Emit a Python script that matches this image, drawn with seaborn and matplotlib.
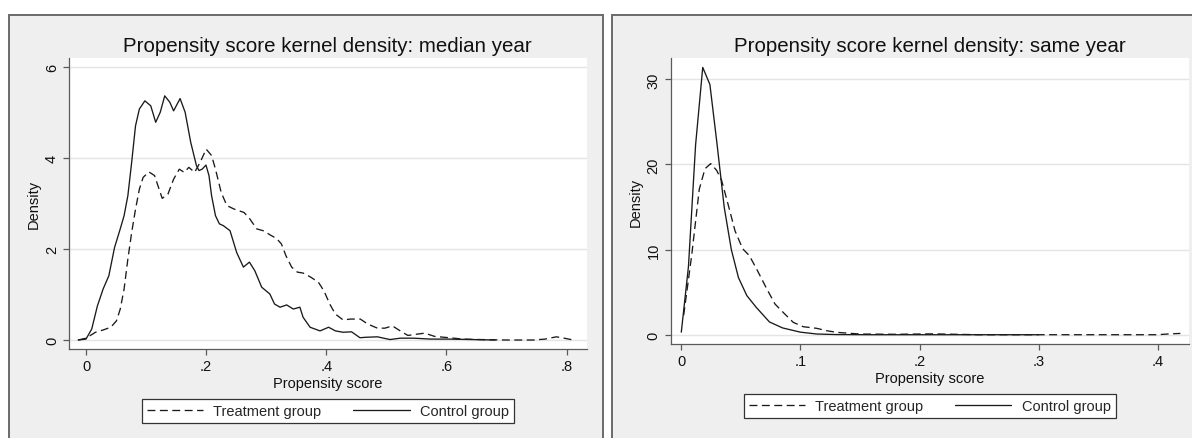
import matplotlib
matplotlib.use("Agg")
import matplotlib.pyplot as plt
from matplotlib.patches import Rectangle
import seaborn as sns
import pandas as pd

# ---------------- data ----------------
titles = ["Propensity score kernel density: median year",
          "Propensity score kernel density: same year"]
xlabel_text = "Propensity score"
ylabel_text = "Density"
legend_labels = ["Treatment group", "Control group"]

med_x_ticks = [0, 0.2, 0.4, 0.6, 0.8]
med_x_ticklabels = ["0", ".2", ".4", ".6", ".8"]
med_y_ticks = [0, 2, 4, 6]
med_y_ticklabels = ["0", "2", "4", "6"]

same_x_ticks = [0, 0.1, 0.2, 0.3, 0.4]
same_x_ticklabels = ["0", ".1", ".2", ".3", ".4"]
same_y_ticks = [0, 10, 20, 30]
same_y_ticklabels = ["0", "10", "20", "30"]

med_treat_x = [-0.013, 0.0, 0.0158, 0.0285, 0.0412, 0.0507, 0.057, 0.0634, 0.0697, 0.076,
               0.0824, 0.0888, 0.0951, 0.1046, 0.1141, 0.1268, 0.1363, 0.1458, 0.1553, 0.1635,
               0.1712, 0.1807, 0.190, 0.200, 0.209, 0.2155, 0.225, 0.2345, 0.2472, 0.263,
               0.2726, 0.284, 0.2948, 0.3074, 0.317, 0.3252, 0.3328, 0.3423, 0.3518, 0.3613,
               0.374, 0.3867, 0.396, 0.4057, 0.415, 0.428, 0.4406, 0.4565, 0.469, 0.485,
               0.4975, 0.510, 0.523, 0.5357, 0.5515, 0.564, 0.580, 0.596, 0.612, 0.6276,
               0.656, 0.70, 0.745, 0.764, 0.783, 0.796, 0.811]
med_treat_y = [0, 0.04, 0.17, 0.22, 0.28, 0.42, 0.68, 1.12, 1.78, 2.36,
               2.87, 3.31, 3.57, 3.69, 3.61, 3.11, 3.20, 3.53, 3.75, 3.68,
               3.79, 3.68, 3.90, 4.19, 4.05, 3.75, 3.24, 2.95, 2.87, 2.80,
               2.66, 2.44, 2.40, 2.30, 2.23, 2.11, 1.85, 1.60, 1.49, 1.47,
               1.38, 1.27, 1.08, 0.79, 0.57, 0.44, 0.46, 0.46, 0.35, 0.26,
               0.26, 0.31, 0.20, 0.10, 0.13, 0.15, 0.08, 0.06, 0.04, 0.02,
               0.01, 0.0, 0.0, 0.02, 0.07, 0.04, 0.0]

med_ctrl_x = [-0.013, 0.0, 0.0095, 0.019, 0.0285, 0.038, 0.0475, 0.057, 0.0634, 0.0697,
              0.076, 0.0824, 0.0888, 0.098, 0.1078, 0.116, 0.1236, 0.131, 0.1395, 0.1458,
              0.1566, 0.165, 0.1743, 0.1838, 0.188, 0.1933, 0.1997, 0.2047, 0.209, 0.2155,
              0.222, 0.2286, 0.2397, 0.2508, 0.262, 0.272, 0.281, 0.2924, 0.306, 0.3138,
              0.323, 0.334, 0.345, 0.356, 0.3613, 0.373, 0.3895, 0.4038, 0.4152, 0.428,
              0.442, 0.456, 0.466, 0.485, 0.506, 0.523, 0.545, 0.574, 0.605, 0.643, 0.681]
med_ctrl_y = [0, 0.02, 0.24, 0.75, 1.12, 1.41, 2.03, 2.44, 2.73, 3.17,
              3.90, 4.70, 5.07, 5.25, 5.14, 4.78, 5.0, 5.36, 5.22, 5.03,
              5.30, 5.0, 4.34, 3.83, 3.72, 3.75, 3.84, 3.61, 3.17, 2.73,
              2.55, 2.51, 2.40, 1.92, 1.60, 1.71, 1.52, 1.16, 1.01, 0.79,
              0.72, 0.77, 0.68, 0.72, 0.50, 0.28, 0.20, 0.28, 0.20, 0.17,
              0.18, 0.05, 0.06, 0.07, 0.01, 0.04, 0.04, 0.02, 0.02, 0.01, 0.0]

same_treat_x = [0.002, 0.0087, 0.0151, 0.0199, 0.0247, 0.0297, 0.0339, 0.0395, 0.0451, 0.0515,
                0.0571, 0.0633, 0.0717, 0.0787, 0.0871, 0.094, 0.1024, 0.1137, 0.122, 0.1305,
                0.150, 0.18, 0.211, 0.25, 0.30, 0.35, 0.40, 0.41, 0.419]
same_treat_y = [2.3, 9.3, 17.1, 19.5, 20.1, 19.3, 18.1, 15.2, 12.2, 10.1,
                9.3, 7.7, 5.4, 3.6, 2.4, 1.45, 0.94, 0.75, 0.47, 0.28,
                0.08, 0.05, 0.1, 0.0, 0.0, 0.0, 0.0, 0.1, 0.15]

same_ctrl_x = [0.0, 0.006, 0.012, 0.018, 0.024, 0.030, 0.036, 0.042, 0.048, 0.055,
               0.063, 0.074, 0.085, 0.100, 0.114, 0.130, 0.160, 0.200, 0.250, 0.300]
same_ctrl_y = [0.3, 8.0, 22.3, 31.4, 29.4, 22.4, 15.0, 10.0, 6.7, 4.6,
               3.2, 1.5, 0.8, 0.3, 0.08, 0.02, 0.0, 0.0, 0.0, 0.0]

# ---------------- style ----------------
sns.set_style("ticks")
plt.rcParams["font.family"] = ["Liberation Sans", "DejaVu Sans"]

PANEL_BG = "#efefef"
PANEL_EDGE = "#6a6a6a"
AXIS_COL = "#5a5a5a"
GRID_COL = "#e4e4e4"
LINE_COL = "#1a1a1a"
DASH = (0, (6.0, 3.4))
FS = 10.5

fig = plt.figure(figsize=(11.92, 4.39), dpi=100)
fig.patch.set_facecolor("white")

W, H = 1192.0, 439.0
# background panels (Stata graph regions)
for x0, x1 in [(9.0, 603.3), (611.7, 1250.0)]:
    fig.add_artist(Rectangle((x0 / W, -0.1), (x1 - x0) / W, (1 - 15.7 / H) + 0.1,
                             transform=fig.transFigure, facecolor=PANEL_BG,
                             edgecolor=PANEL_EDGE, linewidth=1.4, zorder=-5))

ax1 = fig.add_axes([69.0 / W, 1 - 350.3 / H, (586.7 - 69.0) / W, (350.3 - 59.3) / H])
ax2 = fig.add_axes([670.7 / W, 1 - 345.0 / H, (1188.7 - 670.7) / W, (345.0 - 59.3) / H])

panels = [
    (ax1, med_treat_x, med_treat_y, med_ctrl_x, med_ctrl_y, titles[0],
     med_x_ticks, med_x_ticklabels, med_y_ticks, med_y_ticklabels,
     (-0.0283, 0.8334), (-0.204, 6.184), -0.1708),
    (ax2, same_treat_x, same_treat_y, same_ctrl_x, same_ctrl_y, titles[1],
     same_x_ticks, same_x_ticklabels, same_y_ticks, same_y_ticklabels,
     (-0.0089, 0.426), (-1.09, 32.47), -0.175),
]

for (ax, tx, ty, cx, cy, title, xt, xtl, yt, ytl, xlim, ylim, leg_y) in panels:
    ax.set_facecolor("white")
    treat = pd.DataFrame({"x": tx, "y": ty})
    ctrl = pd.DataFrame({"x": cx, "y": cy})
    sns.lineplot(data=treat, x="x", y="y", ax=ax, color=LINE_COL, linewidth=0.95,
                 linestyle=DASH, label=legend_labels[0], sort=False, zorder=3)
    sns.lineplot(data=ctrl, x="x", y="y", ax=ax, color=LINE_COL, linewidth=0.95,
                 label=legend_labels[1], sort=False, zorder=3)

    ax.set_xlim(*xlim)
    ax.set_ylim(*ylim)
    ax.set_xticks(xt)
    ax.set_xticklabels(xtl)
    ax.set_yticks(yt)
    ax.set_yticklabels(ytl, rotation=90, va="center")

    ax.grid(axis="y", color=GRID_COL, linewidth=1.0, zorder=0)
    ax.grid(axis="x", visible=False)
    ax.set_axisbelow(True)

    for side in ["top", "right"]:
        ax.spines[side].set_visible(False)
    for side in ["left", "bottom"]:
        ax.spines[side].set_color(AXIS_COL)
        ax.spines[side].set_linewidth(0.9)

    ax.tick_params(axis="both", direction="out", length=4.2, width=0.9,
                   color=AXIS_COL, labelsize=FS, labelcolor="#111111", pad=3)

    ax.set_title(title, fontsize=14.8, pad=5, color="#111111")
    ax.set_xlabel(xlabel_text, fontsize=FS, labelpad=2, color="#111111")
    ax.set_ylabel(ylabel_text, fontsize=FS, labelpad=3, color="#111111")

    leg = ax.legend(loc="upper center", bbox_to_anchor=(0.5, leg_y), ncol=2,
                    frameon=True, fancybox=False, shadow=False, fontsize=FS,
                    handlelength=3.85, handletextpad=0.7, columnspacing=2.2,
                    borderpad=0.35, borderaxespad=0.0)
    frame = leg.get_frame()
    frame.set_edgecolor("#333333")
    frame.set_linewidth(0.9)
    frame.set_facecolor("white")
    frame.set_alpha(1.0)
    for line in leg.get_lines():
        line.set_linewidth(0.95)

fig.savefig("out.png", dpi=100)
